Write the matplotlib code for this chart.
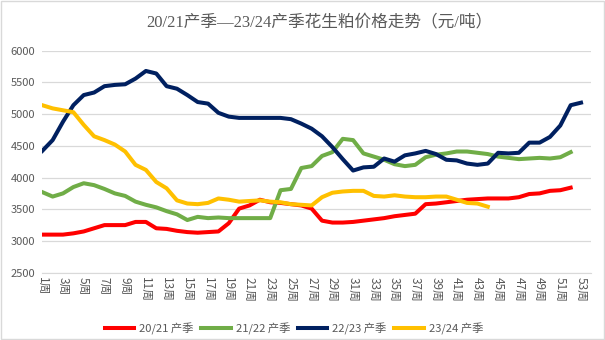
import matplotlib.pyplot as plt
import matplotlib.patches as patches

plt.rcParams['font.family'] = ['Noto Sans CJK SC', 'DejaVu Sans']

# 周价格（元/吨）
s2021 = [3100, 3100, 3100, 3120, 3150, 3200, 3250, 3250, 3250, 3300,
         3300, 3200, 3190, 3160, 3140, 3130, 3140, 3150, 3280, 3510,
         3560, 3650, 3610, 3600, 3580, 3560, 3510, 3320, 3290, 3290,
         3300, 3320, 3340, 3360, 3390, 3410, 3430, 3580, 3590, 3610,
         3630, 3650, 3660, 3670, 3670, 3670, 3690, 3740, 3750, 3790,
         3800, 3840]
s2122 = [3770, 3700, 3750, 3850, 3910, 3880, 3820, 3750, 3710, 3620,
         3570, 3530, 3470, 3420, 3330, 3380, 3360, 3370, 3360, 3360,
         3360, 3360, 3360, 3800, 3820, 4150, 4180, 4340, 4400, 4610,
         4590, 4380, 4330, 4280, 4210, 4180, 4200, 4320, 4360, 4380,
         4410, 4410, 4390, 4370, 4330, 4310, 4290, 4300, 4310, 4300,
         4320, 4400]
s2223 = [4420, 4590, 4880, 5140, 5300, 5340, 5440, 5460, 5470, 5560,
         5680, 5640, 5440, 5400, 5300, 5190, 5165, 5020, 4960, 4940,
         4940, 4940, 4940, 4940, 4920, 4850, 4770, 4650, 4480, 4290,
         4110, 4160, 4170, 4300, 4250, 4350, 4380, 4420, 4370, 4280,
         4270, 4220, 4200, 4220, 4390, 4380, 4390, 4550, 4550, 4640,
         4820, 5140, 5180]
s2324 = [5140, 5090, 5060, 5030, 4830, 4650, 4590, 4520, 4410, 4200,
         4120, 3930, 3830, 3640, 3590, 3580, 3600, 3670, 3650, 3620,
         3630, 3640, 3620, 3610, 3580, 3570, 3560, 3690, 3760, 3780,
         3790, 3790, 3710, 3700, 3720, 3700, 3690, 3690, 3700, 3700,
         3650, 3600, 3590, 3540]

series = [("20/21 产季", s2021, "#FF0000"),
          ("21/22 产季", s2122, "#70AD47"),
          ("22/23 产季", s2223, "#002060"),
          ("23/24 产季", s2324, "#FFC000")]

tick_weeks = list(range(1, 54, 2))
tick_labels = [f"{w}周" for w in tick_weeks]

fig = plt.figure(figsize=(6.05, 3.4), dpi=100)
ax = fig.add_axes([0.0699, 0.198, 0.9076, 0.653])

for name, vals, col in series:
    ax.plot(range(1, len(vals) + 1), vals, color=col, lw=2.9, label=name)

ax.set_xlim(1, 54)
ax.set_ylim(2500, 6000)
ax.set_yticks(range(2500, 6001, 500))
ax.grid(axis='y', color='#D9D9D9', lw=0.9)
ax.set_axisbelow(True)
for s in ['top', 'right', 'left']:
    ax.spines[s].set_visible(False)
ax.spines['bottom'].set_color('#D9D9D9')
ax.set_xticks(tick_weeks)
ax.set_xticklabels(tick_labels, rotation=270, fontsize=8.5, color='#595959')
ax.tick_params(axis='x', length=0, pad=3)
ax.tick_params(axis='y', length=0, pad=5, labelsize=8, labelcolor='#595959')

fig.text(0.527, 0.935, "20/21产季—23/24产季花生粕价格走势（元/吨）",
         ha='center', va='center', fontsize=12, color='#595959',
         family=['Liberation Serif', 'Noto Sans CJK SC'])

ax.legend(loc='center', bbox_to_anchor=(0.486, 0.034), bbox_transform=fig.transFigure,
          ncol=4, frameon=False, fontsize=8.1, handlelength=2.6,
          columnspacing=0.7, handletextpad=0.45, labelcolor='#595959')

fig.patches.append(patches.Rectangle((0.001, 0.002), 0.997, 0.995, transform=fig.transFigure,
                                     fill=False, edgecolor='#D9D9D9', lw=1))

fig.savefig("out.png", dpi=100)
